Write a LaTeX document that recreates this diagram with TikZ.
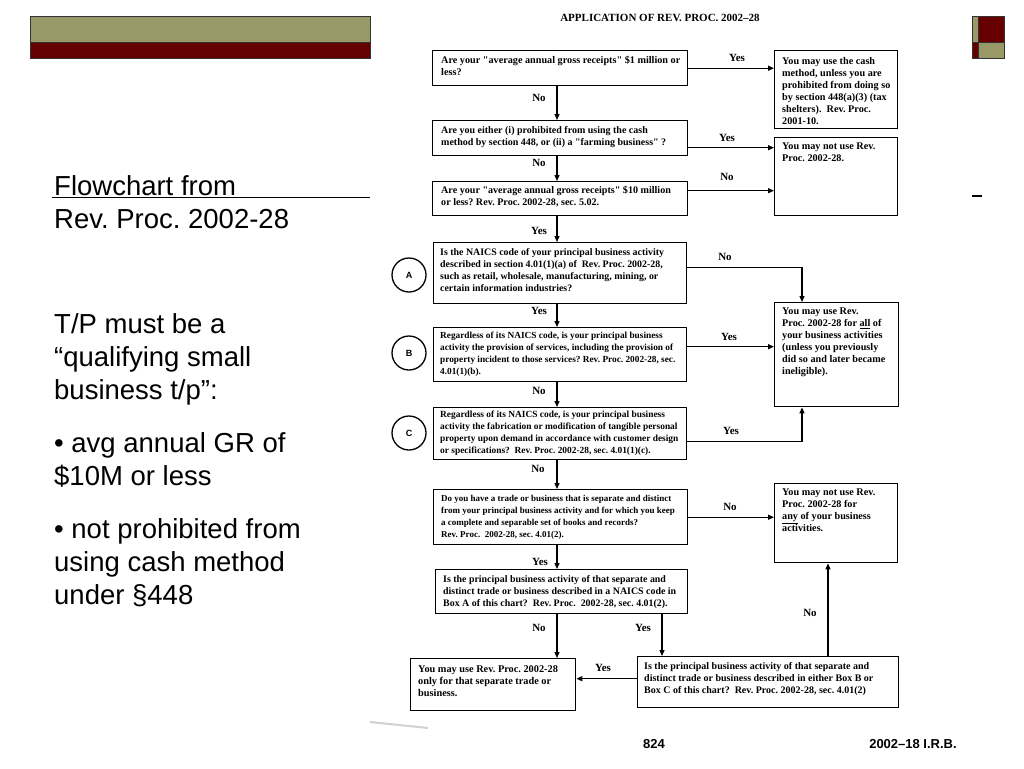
\documentclass[tikz,border=0pt]{standalone}
\usepackage{fontspec}
\setmainfont{Liberation Serif}
\newfontfamily\arialf{Liberation Sans}
\usetikzlibrary{arrows.meta,calc}
\definecolor{oliveband}{RGB}{153,153,104}
\definecolor{maroonband}{RGB}{102,0,0}
\newcommand\fsz[1]{\fontsize{#1}{12}\selectfont\bfseries}
\newcommand\rfont{\fontsize{10.2}{12}\selectfont\bfseries}
\newcommand\dq{\textquotedbl}
\frenchspacing
\begin{document}
\begin{tikzpicture}[x=1pt,y=-1pt,
  box/.style={draw=black,line width=1.4pt,inner sep=0pt,anchor=north west},
  txt/.style={anchor=north west,inner sep=0pt,align=left},
  lab/.style={inner sep=0pt,font=\fontsize{11}{12}\selectfont\bfseries},
  arr/.style={line width=1.3pt,-{Triangle[length=6pt,width=5pt]}},
  circ/.style={draw=black,line width=1.3pt,circle,minimum size=34pt,inner sep=0pt,font=\arialf\fontsize{9}{10}\selectfont\bfseries},
  slide/.style={anchor=base west,inner sep=0pt,font=\arialf\fontsize{27.5}{33}\selectfont},
  band/.style={draw=black!80,line width=0.5pt}]
\useasboundingbox (0,0) rectangle (1024,768);
\fill[white] (0,0) rectangle (1024,768);

% template decorations
\filldraw[band,fill=oliveband] (30,16) rectangle (370,42);
\filldraw[band,fill=maroonband] (30,42) rectangle (370,58);
\filldraw[band,fill=oliveband] (972,16) rectangle (978,42);
\filldraw[band,fill=maroonband] (978,16) rectangle (1004,42);
\filldraw[band,fill=maroonband] (972,42) rectangle (978,58);
\filldraw[band,fill=oliveband] (978,42) rectangle (1004,58);
\draw[line width=1pt] (52,197) -- (370,197);
\draw[line width=1.5pt] (972,196) -- (982,196);
\draw[line width=2pt,black!18] (370,722) -- (428,728);

% slide text
\node[slide] (s1) at (54,195) {Flowchart from};
\node[slide] (s2) at (54,228) {Rev. Proc. 2002-28};
\node[slide] (s3) at (54,333) {T/P must be a};
\node[slide] (s4) at (54,366) {“qualifying small};
\node[slide] (s5) at (54,399) {business t/p”:};
\node[slide] (s6) at (54,452) {• avg annual GR of};
\node[slide] (s7) at (54,485) {\$10M or less};
\node[slide] (s8) at (54,538) {• not prohibited from};
\node[slide] (s9) at (54,571) {using cash method};
\node[slide] (s10) at (54,604) {under §448};

% flowchart title and footer
\node[inner sep=0pt,font=\fontsize{11}{12}\selectfont\bfseries] (title) at (660,18) {APPLICATION OF REV. PROC. 2002–28};
\node[inner sep=0pt,font=\arialf\fontsize{13}{14}\selectfont\bfseries] (pg) at (654,744) {824};
\node[inner sep=0pt,font=\arialf\fontsize{13}{14}\selectfont\bfseries] (irb) at (913,744) {2002–18 I.R.B.};

% boxes
\node[box,minimum width=255,minimum height=35] (q1) at (432,50) {};
\node[box,minimum width=123,minimum height=78] (r1) at (774,50) {};
\node[box,minimum width=255,minimum height=35] (q2) at (432,120) {};
\node[box,minimum width=123,minimum height=78] (r2) at (774,137) {};
\node[box,minimum width=255,minimum height=34] (q3) at (432,181) {};
\node[box,minimum width=253,minimum height=61] (qa) at (433,242) {};
\node[box,minimum width=124,minimum height=104] (r3) at (774,302) {};
\node[box,minimum width=253,minimum height=54] (qb) at (433,327) {};
\node[box,minimum width=253,minimum height=52] (qc) at (433,407) {};
\node[box,minimum width=254,minimum height=55] (qd) at (433,489) {};
\node[box,minimum width=123,minimum height=79] (r4) at (774,483) {};
\node[box,minimum width=252,minimum height=44] (qe) at (435,569) {};
\node[box,minimum width=165,minimum height=52] (rf) at (410,658) {};
\node[box,minimum width=261,minimum height=51] (qf) at (637,656) {};

\node[circ] (ca) at (409,275) {A};
\node[circ] (cb) at (409,353) {B};
\node[circ] (cc) at (409,433) {C};

% box texts
\node[txt,font=\fsz{10.2}] (tq1) at ([shift={(9,6)}]q1.north west) {Are your \dq average annual gross receipts\dq\ \$1 million or\\less?};
\node[txt,font=\rfont] (tr1) at ([shift={(8,7)}]r1.north west) {You may use the cash\\method, unless you are\\prohibited from doing so\\by section 448(a)(3) (tax\\shelters).\ \ Rev. Proc.\\2001-10.};
\node[txt,font=\fsz{10.0}] (tq2) at ([shift={(9,6)}]q2.north west) {Are you either (i) prohibited from using the cash\\method by section 448, or (ii) a \dq farming business\dq\ ?};
\node[txt,font=\rfont] (tr2) at ([shift={(8,6)}]r2.north west) {You may not use Rev.\\Proc. 2002-28.};
\node[txt,font=\fsz{10.1}] (tq3) at ([shift={(9,5)}]q3.north west) {Are your \dq average annual gross receipts\dq\ \$10 million\\or less? Rev. Proc. 2002-28, sec. 5.02.};
\node[txt,font=\fsz{9.9}] (tqa) at ([shift={(7,6)}]qa.north west) {Is the NAICS code of your principal business activity\\described in section 4.01(1)(a) of\ \ Rev. Proc. 2002-28,\\such as retail, wholesale, manufacturing, mining, or\\certain information industries?};
\node[txt,font=\rfont] (tr3) at ([shift={(8,6)}]r3.north west) {You may use Rev.\\Proc. 2002-28 for \underline{all} of\\your business activities\\(unless you previously\\did so and later became\\ineligible).};
\node[txt,font=\fsz{9.3}] (tqb) at ([shift={(7,5)}]qb.north west) {Regardless of its NAICS code, is your principal business\\activity the provision of services, including the provision of\\property incident to those services? Rev. Proc. 2002-28, sec.\\4.01(1)(b).};
\node[txt,font=\fsz{9.4}] (tqc) at ([shift={(7,4)}]qc.north west) {Regardless of its NAICS code, is your principal business\\activity the fabrication or modification of tangible personal\\property upon demand in accordance with customer design\\or specifications?\ \ Rev. Proc. 2002-28, sec. 4.01(1)(c).};
\node[txt,font=\fsz{9.0}] (tqd) at ([shift={(8,6)}]qd.north west) {Do you have a trade or business that is separate and distinct\\from your principal business activity and for which you keep\\a complete and separable set of books and records?\\Rev. Proc.\ \ 2002-28, sec. 4.01(2).};
\node[txt,font=\rfont] (tr4) at ([shift={(8,6)}]r4.north west) {You may not use Rev.\\Proc. 2002-28 for\\\underline{any} of your business\\activities.};
\node[txt,font=\fsz{9.9}] (tqe) at ([shift={(8,6)}]qe.north west) {Is the principal business activity of that separate and\\distinct trade or business described in a NAICS code in\\Box A of this chart?\ \ Rev. Proc.\ \ 2002-28, sec. 4.01(2).};
\node[txt,font=\fsz{10.3}] (trf) at ([shift={(8,7)}]rf.north west) {You may use Rev. Proc. 2002-28\\only for that separate trade or\\business.};
\node[txt,font=\fsz{10.0}] (tqf) at ([shift={(7,6)}]qf.north west) {Is the principal business activity of that separate and\\distinct trade or business described in either Box B or\\Box C of this chart?\ \ Rev. Proc. 2002-28, sec. 4.01(2)};

% helper coordinates
\coordinate (cx) at (557,0);
\coordinate (c2) at (662,0);
\coordinate (c3) at (828,0);
\coordinate (rx) at (802,0);

% connectors
\draw[arr] (q1.east) -- (q1.east -| r1.west);
\draw[arr] ([yshift=-9.5pt]q2.east) -- ([yshift=-9.5pt]q2.east -| r2.west);
\draw[arr] ([yshift=8pt]q3.east) -- ([yshift=8pt]q3.east -| r2.west);
\draw[arr] (q1.south -| cx) -- (q2.north -| cx);
\draw[arr] (q2.south -| cx) -- (q3.north -| cx);
\draw[arr] (q3.south -| cx) -- (qa.north -| cx);
\draw[arr] ([yshift=5.5pt]qa.east) -| (r3.north -| rx);
\draw[arr] (qa.south -| cx) -- (qb.north -| cx);
\draw[arr] ([yshift=8pt]qb.east) -- ([yshift=8pt]qb.east -| r3.west);
\draw[arr] (qb.south -| cx) -- (qc.north -| cx);
\draw[arr] ([yshift=-8pt]qc.east) -| (r3.south -| rx);
\draw[arr] (qc.south -| cx) -- (qd.north -| cx);
\draw[arr] (qd.east) -- (qd.east -| r4.west);
\draw[arr] (qd.south -| cx) -- (qe.north -| cx);
\draw[arr] (qe.south -| cx) -- (rf.north -| cx);
\draw[arr] (qe.south -| c2) -- (qf.north -| c2);
\draw[arr] ([yshift=3.5pt]qf.west) -- ([yshift=3.5pt]qf.west -| rf.east);
\draw[arr] (qf.north -| c3) -- (r4.south -| c3);

% connector labels
\node[lab] (l1) at (737,58) {Yes};
\node[lab] (l2) at (539,98) {No};
\node[lab] (l3) at (727,138) {Yes};
\node[lab] (l4) at (539,163) {No};
\node[lab] (l5) at (727,177) {No};
\node[lab] (l6) at (539,231) {Yes};
\node[lab] (l7) at (725,257) {No};
\node[lab] (l8) at (539,311) {Yes};
\node[lab] (l9) at (729,337) {Yes};
\node[lab] (l10) at (539,391) {No};
\node[lab] (l11) at (731,431) {Yes};
\node[lab] (l12) at (538,469) {No};
\node[lab] (l13) at (730,507) {No};
\node[lab] (l14) at (540,562) {Yes};
\node[lab] (l15) at (539,628) {No};
\node[lab] (l16) at (643,628) {Yes};
\node[lab] (l17) at (603,668) {Yes};
\node[lab] (l18) at (810,613) {No};
\end{tikzpicture}
\end{document}
